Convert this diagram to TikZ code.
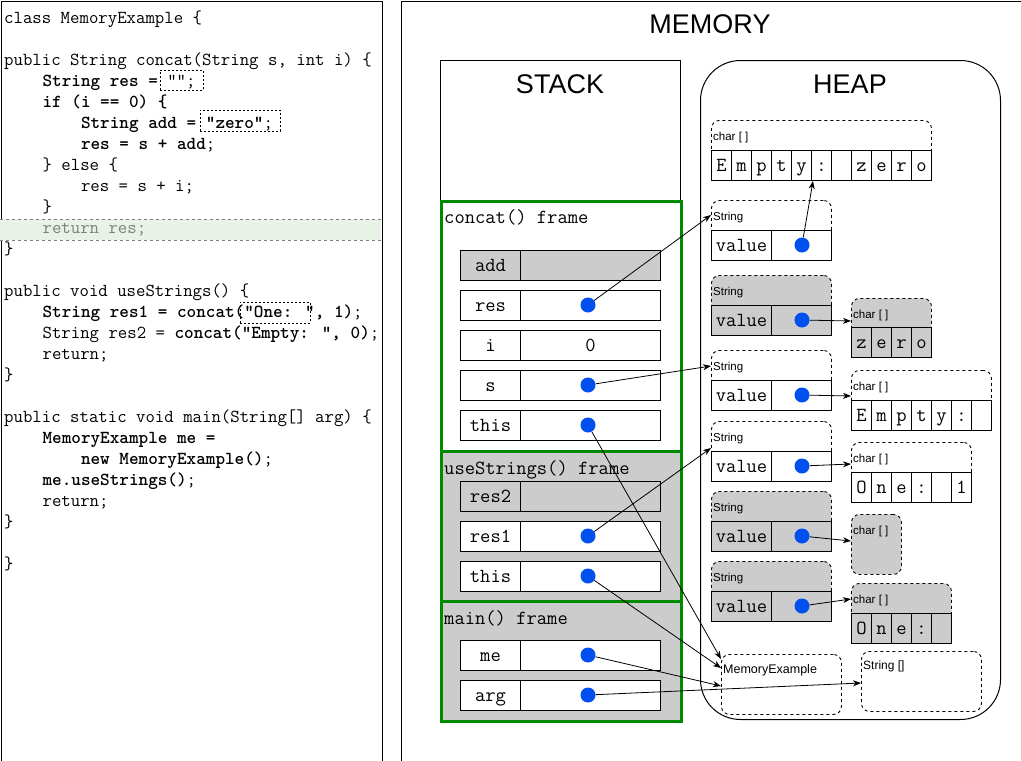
\documentclass[tikz,border=0pt]{standalone}
\usepackage{fontspec}
\setmainfont{Liberation Sans}
\usetikzlibrary{arrows.meta,calc}
\definecolor{dotblue}{HTML}{0050EF}
\definecolor{framegreen}{HTML}{008A00}
\definecolor{hgray}{HTML}{CCCCCC}
\definecolor{bandgreen}{HTML}{E8F2E6}
\definecolor{codegray}{HTML}{7F7F7F}
\tikzset{
  code/.style={anchor=base west, inner sep=0pt, font=\ttfamily\fontsize{18.3}{21}\selectfont},
  codebox/.style={draw, rectangle, inner sep=0pt, anchor=north west, dash pattern=on 2pt off 2pt, line width=0.8pt},
  cell/.style={draw, rectangle, inner sep=0pt, minimum height=30pt, anchor=north west, text height=13pt, text depth=1pt, line width=1pt, font=\ttfamily\fontsize{20}{22}\selectfont},
  ccell/.style={cell, minimum width=20pt},
  dot/.style={circle, fill=dotblue, minimum size=15pt, inner sep=0pt},
  hbox/.style={draw, rectangle, rounded corners=8pt, inner sep=0pt, anchor=north west, dash pattern=on 3pt off 3pt, line width=0.9pt},
  hlabel/.style={anchor=base west, inner sep=0pt, font=\fontsize{11.5}{13}\selectfont},
  title/.style={anchor=base, inner sep=0pt, font=\fontsize{27}{30}\selectfont},
  framelabel/.style={anchor=base west, inner sep=0pt, font=\ttfamily\fontsize{20}{22}\selectfont},
  frm/.style={draw=framegreen, line width=2.6pt, rectangle, inner sep=0pt, anchor=north west},
  conn/.style={-{Stealth[length=8pt,width=6pt,inset=2.5pt]}, line width=0.8pt},
}
\begin{document}
\begin{tikzpicture}[x=1pt,y=-1pt]
\useasboundingbox (0,0) rectangle (1021,761);
% ---------- code panel ----------
\node[draw, rectangle, inner sep=0pt, anchor=north west, minimum width=381pt, minimum height=760pt, line width=1pt] (codepanel) at (0.5,0.5) {};
\fill[bandgreen] (0,219) rectangle (381,240);
\draw[codegray, dash pattern=on 3pt off 3pt, line width=0.6pt] (0,219) -- (381,219) (0,240) -- (381,240);
\node[code] (c1) at (4,23) {class MemoryExample \{};
\node[code] (c3) at (4,65) {public String concat(String s, int i) \{};
\node[code] (c4) at (42.4,86) {\textbf{String res =} "";};
\node[code] (c5) at (42.4,107) {\textbf{if (i == 0) \{}};
\node[code] (c6) at (80.8,128) {\textbf{String add = "zero"};};
\node[code] (c7) at (80.8,149) {\textbf{res = s + add};};
\node[code] (c8) at (42.4,170) {\} else \{};
\node[code] (c9) at (80.8,191) {res = s + i;};
\node[code] (c10) at (42.4,212) {\}};
\node[code, text=codegray] (c11) at (42.4,233) {return res;};
\node[code] (c12) at (4,254) {\}};
\node[code] (c14) at (4,296) {public void useStrings() \{};
\node[code] (c15) at (42.4,317) {\textbf{String res1 = concat("One: ", 1)};};
\node[code] (c16) at (42.4,338) {String res2 = \textbf{concat("Empty: ", 0)};};
\node[code] (c17) at (42.4,359) {return;};
\node[code] (c18) at (4,380) {\}};
\node[code] (c20) at (4,422) {public static void main(String[] arg) \{};
\node[code] (c21) at (42.4,443) {\textbf{MemoryExample me =}};
\node[code] (c22) at (80.8,464) {\textbf{new MemoryExample()};};
\node[code] (c23) at (42.4,485) {\textbf{me.useStrings()};};
\node[code] (c24) at (42.4,506) {return;};
\node[code] (c25) at (4,527) {\}};
\node[code] (c27) at (4,569) {\}};
\node[codebox, minimum width=43pt, minimum height=20pt] (cb1) at (160,70) {};
\node[codebox, minimum width=80pt, minimum height=21pt] (cb2) at (200,110) {};
\node[codebox, minimum width=70pt, minimum height=21pt] (cb3) at (240,302) {};
% ---------- memory panel ----------
\node[draw, rectangle, inner sep=0pt, anchor=north west, minimum width=619.5pt, minimum height=760pt, line width=1pt] (mem) at (401,0.5) {};
\node[title] (memT) at (710,33) {MEMORY};
\node[draw, rectangle, inner sep=0pt, anchor=north west, minimum width=240pt, minimum height=660pt, line width=1pt] (stack) at (440,60) {};
\node[title] (stackT) at (560,93) {STACK};
\node[draw, rectangle, rounded corners=40pt, inner sep=0pt, anchor=north west, minimum width=300pt, minimum height=659pt, line width=1pt] (heap) at (700,60) {};
\node[title] (heapT) at (850,93) {HEAP};
% ---------- frames ----------
\node[frm, fill=white, minimum width=240pt, minimum height=250pt] (fconcat) at (440,200) {};
\node[frm, fill=hgray, minimum width=240pt, minimum height=150pt] (fuse) at (440,450) {};
\node[frm, fill=hgray, minimum width=240pt, minimum height=120pt] (fmain) at (440,600) {};
\node[framelabel] (lconcat) at (444,223) {concat() frame};
\node[framelabel] (luse) at (444,474) {useStrings() frame};
\node[framelabel] (lmain) at (444,624) {main() frame};
% concat rows
\node[cell, minimum width=60pt, fill=hgray] (addL) at (460,250) {add};
\node[cell, minimum width=140pt, fill=hgray] (addV) at (520,250) {};
\node[cell, minimum width=60pt, fill=white] (resL) at (460,290) {res};
\node[cell, minimum width=140pt, fill=white] (resV) at (520,290) {};
\node[dot] (resD) at (588,305) {};
\node[cell, minimum width=60pt, fill=white] (iL) at (460,330) {i};
\node[cell, minimum width=140pt, fill=white] (iV) at (520,330) {0};
\node[cell, minimum width=60pt, fill=white] (sL) at (460,370) {s};
\node[cell, minimum width=140pt, fill=white] (sV) at (520,370) {};
\node[dot] (sD) at (588,385) {};
\node[cell, minimum width=60pt, fill=white] (thisL) at (460,410) {this};
\node[cell, minimum width=140pt, fill=white] (thisV) at (520,410) {};
\node[dot] (thisD) at (588,425) {};
% useStrings rows
\node[cell, minimum width=60pt, fill=hgray] (res2L) at (460,481) {res2};
\node[cell, minimum width=140pt, fill=hgray] (res2V) at (520,481) {};
\node[cell, minimum width=60pt, fill=white] (res1L) at (460,521) {res1};
\node[cell, minimum width=140pt, fill=white] (res1V) at (520,521) {};
\node[dot] (res1D) at (588,536) {};
\node[cell, minimum width=60pt, fill=white] (this2L) at (460,561) {this};
\node[cell, minimum width=140pt, fill=white] (this2V) at (520,561) {};
\node[dot] (this2D) at (588,576) {};
% main rows
\node[cell, minimum width=60pt, fill=white] (meL) at (460,640) {me};
\node[cell, minimum width=140pt, fill=white] (meV) at (520,640) {};
\node[dot] (meD) at (588,655) {};
\node[cell, minimum width=60pt, fill=white] (argL) at (460,680) {arg};
\node[cell, minimum width=140pt, fill=white] (argV) at (520,680) {};
\node[dot] (argD) at (588,695) {};
% ---------- heap objects ----------
% A: char[] Empty: zero
\node[hbox, fill=white, minimum width=220pt, minimum height=60pt] (A) at (711,120) {};
\node[hlabel] (Al) at (713,140) {char [ ]};
\foreach \c [count=\i] in {E,m,p,t,y,:,{},z,e,r,o}
  \node[ccell, fill=white] (a\i) at ({711+20*(\i-1)},150) {\c};
% B: String white
\node[hbox, fill=white, minimum width=120pt, minimum height=60pt] (B) at (711,200) {};
\node[hlabel] (Bl) at (713,220) {String};
\node[cell, minimum width=60pt, fill=white] (Bv) at (711,230) {value};
\node[cell, minimum width=60pt, fill=white] (Bp) at (771,230) {};
\node[dot] (BD) at (802,245) {};
% C: String gray
\node[hbox, fill=hgray, minimum width=120pt, minimum height=60pt] (C) at (711,275) {};
\node[hlabel] (Cl) at (713,295) {String};
\node[cell, minimum width=60pt, fill=hgray] (Cv) at (711,305) {value};
\node[cell, minimum width=60pt, fill=hgray] (Cp) at (771,305) {};
\node[dot] (CD) at (802,320) {};
% D: char[] gray zero
\node[hbox, fill=hgray, minimum width=80pt, minimum height=59pt] (D) at (851,298) {};
\node[hlabel] (Dl) at (853,318) {char [ ]};
\foreach \c [count=\i] in {z,e,r,o}
  \node[ccell, fill=hgray] (d\i) at ({851+20*(\i-1)},327) {\c};
% E: String white
\node[hbox, fill=white, minimum width=120pt, minimum height=60pt] (E) at (711,350) {};
\node[hlabel] (El) at (713,370) {String};
\node[cell, minimum width=60pt, fill=white] (Ev) at (711,380) {value};
\node[cell, minimum width=60pt, fill=white] (Ep) at (771,380) {};
\node[dot] (ED) at (802,395) {};
% F: char[] Empty:
\node[hbox, fill=white, minimum width=140pt, minimum height=60pt] (F) at (851,370) {};
\node[hlabel] (Fl) at (853,390) {char [ ]};
\foreach \c [count=\i] in {E,m,p,t,y,:,{}}
  \node[ccell, fill=white] (f\i) at ({851+20*(\i-1)},400) {\c};
% G: String white
\node[hbox, fill=white, minimum width=120pt, minimum height=60pt] (G) at (711,421) {};
\node[hlabel] (Gl) at (713,441) {String};
\node[cell, minimum width=60pt, fill=white] (Gv) at (711,451) {value};
\node[cell, minimum width=60pt, fill=white] (Gp) at (771,451) {};
\node[dot] (GD) at (802,466) {};
% H: char[] One: 1
\node[hbox, fill=white, minimum width=120pt, minimum height=60pt] (H) at (851,442) {};
\node[hlabel] (Hl) at (853,462) {char [ ]};
\foreach \c [count=\i] in {O,n,e,:,{},1}
  \node[ccell, fill=white] (h\i) at ({851+20*(\i-1)},472) {\c};
% I: String gray
\node[hbox, fill=hgray, minimum width=120pt, minimum height=60pt] (I) at (711,491) {};
\node[hlabel] (Il) at (713,511) {String};
\node[cell, minimum width=60pt, fill=hgray] (Iv) at (711,521) {value};
\node[cell, minimum width=60pt, fill=hgray] (Ip) at (771,521) {};
\node[dot] (ID) at (802,536) {};
% J: char[] gray empty
\node[hbox, fill=hgray, minimum width=50pt, minimum height=60pt] (J) at (851,514) {};
\node[hlabel] (Jl) at (853,534) {char [ ]};
% K: String gray
\node[hbox, fill=hgray, minimum width=120pt, minimum height=60pt] (K) at (711,561) {};
\node[hlabel] (Kl) at (713,581) {String};
\node[cell, minimum width=60pt, fill=hgray] (Kv) at (711,591) {value};
\node[cell, minimum width=60pt, fill=hgray] (Kp) at (771,591) {};
\node[dot] (KD) at (802,606) {};
% L: char[] gray One:
\node[hbox, fill=hgray, minimum width=100pt, minimum height=60pt] (L) at (851,583) {};
\node[hlabel] (Ll) at (853,603) {char [ ]};
\foreach \c [count=\i] in {O,n,e,:,{}}
  \node[ccell, fill=hgray] (l\i) at ({851+20*(\i-1)},613) {\c};
% M: MemoryExample
\node[hbox, fill=white, minimum width=120pt, minimum height=60pt] (M) at (721,654) {};
\node[hlabel, font=\fontsize{12.5}{14}\selectfont] (Ml) at (723,673) {MemoryExample};
% N: String []
\node[hbox, fill=white, minimum width=120pt, minimum height=60pt] (N) at (861,651) {};
\node[hlabel, font=\fontsize{12}{14}\selectfont] (Nl) at (863,669) {String []};
% ---------- connectors ----------
\draw[conn] (BD) -- ([xshift=2pt]a6.south west);
\draw[conn] (CD) -- ([yshift=-23pt]D.north west);
\draw[conn] (ED) -- ([yshift=-26pt]F.north west);
\draw[conn] (GD) -- ([yshift=-22pt]H.north west);
\draw[conn] (ID) -- ([yshift=-27pt]J.north west);
\draw[conn] (KD) -- ([yshift=-16pt]L.north west);
\draw[conn] (resD) -- ([yshift=-15pt]B.north west);
\draw[conn] (sD) -- ([yshift=-16pt]E.north west);
\draw[conn] (thisD) -- ([yshift=-5pt]M.north west);
\draw[conn] (res1D) -- ([yshift=-27pt]G.north west);
\draw[conn] (this2D) -- ([yshift=-14pt]M.north west);
\draw[conn] (meD) -- ([yshift=-32pt]M.north west);
\draw[conn] (argD) -- ([yshift=-32pt]N.north west);
\end{tikzpicture}
\end{document}
